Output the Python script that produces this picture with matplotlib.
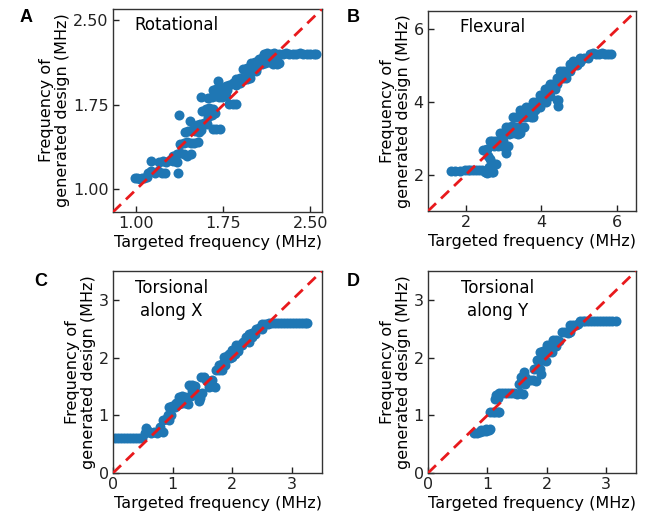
import matplotlib
matplotlib.use("Agg")
import matplotlib.pyplot as plt

# ---------------- Data ----------------
# Panel A: Rotational
rot_target = [0.99, 1.01, 1.03, 1.05, 1.07, 1.09,
              1.10, 1.13, 1.16, 1.19, 1.22, 1.25,
              1.13, 1.20, 1.23, 1.26, 1.29, 1.32, 1.35,
              1.36,
              1.32, 1.35, 1.38, 1.41, 1.44, 1.47,
              1.38, 1.41, 1.44, 1.47, 1.50, 1.53,
              1.42, 1.45, 1.48, 1.51, 1.54, 1.56,
              1.37, 1.46,
              1.52, 1.55, 1.58, 1.61,
              1.66, 1.69, 1.72,
              1.57, 1.60, 1.63, 1.66,
              1.62, 1.65, 1.68,
              1.555,
              1.62, 1.65, 1.68, 1.71, 1.74, 1.77,
              1.70,
              1.66, 1.69, 1.72, 1.75, 1.78,
              1.80, 1.83, 1.86,
              1.77, 1.80, 1.83, 1.86, 1.89,
              1.86, 1.89, 1.92, 1.95, 1.98,
              1.92, 1.95, 1.98, 2.01, 2.03,
              1.95, 1.99, 2.03,
              1.99, 2.02, 2.05, 2.08, 2.11, 2.14,
              2.06, 2.09, 2.12, 2.15, 2.18, 2.21,
              2.10, 2.13, 2.16, 2.19,
              2.18, 2.21, 2.23,
              2.23, 2.26, 2.29, 2.32, 2.35, 2.38, 2.41, 2.44, 2.47, 2.50, 2.53, 2.55]
rot_generated = [1.10, 1.10, 1.09, 1.10, 1.10, 1.11,
                 1.15, 1.16, 1.15, 1.16, 1.15, 1.15,
                 1.25, 1.24, 1.25, 1.24, 1.26, 1.25, 1.24,
                 1.15,
                 1.30, 1.31, 1.32, 1.31, 1.30, 1.31,
                 1.40, 1.41, 1.42, 1.41, 1.41, 1.42,
                 1.51, 1.52, 1.53, 1.52, 1.51, 1.53,
                 1.66, 1.61,
                 1.57, 1.58, 1.59, 1.58,
                 1.54, 1.54, 1.54,
                 1.70, 1.71, 1.72, 1.71,
                 1.64, 1.66, 1.68,
                 1.82,
                 1.81, 1.82, 1.83, 1.82, 1.82, 1.83,
                 1.96,
                 1.88, 1.89, 1.90, 1.89, 1.88,
                 1.76, 1.76, 1.76,
                 1.92, 1.93, 1.94, 1.93, 1.94,
                 1.98, 1.99, 1.97, 1.98, 1.99,
                 2.07, 2.08, 2.09, 2.08, 2.07,
                 2.04, 2.05, 2.05,
                 2.12, 2.13, 2.12, 2.11, 2.12, 2.13,
                 2.16, 2.17, 2.18, 2.17, 2.16, 2.17,
                 2.20, 2.21, 2.20, 2.21,
                 2.11, 2.11, 2.12,
                 2.20, 2.20, 2.21, 2.20, 2.20, 2.20, 2.21, 2.20, 2.20, 2.20, 2.20, 2.20]

# Panel B: Flexural
flex_target = [1.62, 1.72, 1.84,
               1.97, 2.05, 2.12, 2.20, 2.28, 2.36, 2.44,
               2.50, 2.56, 2.62, 2.68, 2.72,
               2.62, 2.68, 2.75, 2.81, 2.64, 2.58,
               2.46, 2.52, 2.55,
               2.63, 2.70, 2.78, 2.86, 2.94, 2.99,
               2.75, 2.85, 2.95, 3.05, 3.12,
               3.07,
               2.90, 2.98, 3.06, 3.14, 3.22, 3.30, 3.38, 3.43,
               3.07, 3.15, 3.23, 3.31, 3.39, 3.47, 3.55,
               3.25, 3.33, 3.41, 3.49, 3.57, 3.65, 3.73, 3.78,
               3.42, 3.50, 3.58, 3.66, 3.74, 3.82,
               3.60, 3.70, 3.80, 3.90, 3.96,
               3.78, 3.86, 3.94, 4.02, 4.13,
               3.96, 4.04, 4.12, 4.22,
               4.09, 4.17, 4.25, 4.35,
               4.22, 4.30, 4.40,
               4.44, 4.40, 4.44,
               4.40, 4.48, 4.56, 4.66,
               4.49, 4.57, 4.65, 4.75,
               4.75, 4.84, 4.93,
               4.84, 4.93, 5.02,
               5.02, 5.12, 5.22,
               5.28, 5.36, 5.44, 5.52, 5.60, 5.68, 5.76, 5.85]
flex_generated = [2.09, 2.09, 2.09,
                  2.13, 2.13, 2.13, 2.12, 2.13, 2.12, 2.12,
                  2.06, 2.05, 2.06, 2.07, 2.08,
                  2.22, 2.28, 2.29, 2.29, 2.42, 2.51,
                  2.69, 2.69, 2.70,
                  2.92, 2.92, 2.93, 2.92, 2.91, 2.92,
                  2.78, 2.79, 2.78, 2.77, 2.79,
                  2.60,
                  3.14, 3.14, 3.15, 3.13, 3.14, 3.15, 3.13, 3.14,
                  3.32, 3.31, 3.33, 3.32, 3.32, 3.31, 3.32,
                  3.59, 3.58, 3.60, 3.59, 3.58, 3.60, 3.59, 3.58,
                  3.77, 3.78, 3.77, 3.76, 3.78, 3.77,
                  3.86, 3.87, 3.86, 3.85, 3.86,
                  4.00, 4.01, 4.00, 3.99, 4.00,
                  4.18, 4.19, 4.18, 4.17,
                  4.36, 4.37, 4.36, 4.35,
                  4.49, 4.50, 4.48,
                  3.88, 4.04, 4.06,
                  4.67, 4.68, 4.66, 4.67,
                  4.85, 4.86, 4.84, 4.85,
                  5.03, 5.04, 5.02,
                  5.12, 5.13, 5.11,
                  5.21, 5.22, 5.21,
                  5.33, 5.34, 5.33, 5.33, 5.34, 5.33, 5.33, 5.33]

# Panel C: Torsional along X
torx_target = [0.03, 0.08, 0.13, 0.18, 0.23, 0.28, 0.33, 0.38, 0.43, 0.48,
               0.53, 0.56, 0.58, 0.63, 0.68, 0.73, 0.78, 0.83, 0.78,
               0.83, 0.88, 0.93,
               0.92, 0.97,
               0.94, 0.99, 1.04, 1.06, 1.11, 1.16, 1.21, 1.26,
               1.11, 1.16, 1.21, 1.26, 1.31,
               1.28, 1.33, 1.38, 1.33,
               1.39, 1.44, 1.49, 1.44, 1.46,
               1.47, 1.52, 1.56, 1.61, 1.66,
               1.61, 1.66, 1.71,
               1.72, 1.77, 1.82,
               1.78, 1.83, 1.88,
               1.86, 1.91, 1.96, 2.00,
               1.94, 1.99, 2.04,
               2.00, 2.05, 2.10,
               2.06, 2.11, 2.16,
               2.17, 2.22, 2.27,
               2.22, 2.27, 2.32,
               2.28, 2.33, 2.38,
               2.39, 2.44, 2.49,
               2.50, 2.55, 2.60,
               2.61, 2.66, 2.71, 2.76, 2.81, 2.86, 2.91, 2.96, 3.01, 3.06, 3.11, 3.16, 3.21, 3.25]
torx_generated = [0.615, 0.615, 0.615, 0.615, 0.615, 0.615, 0.615, 0.615, 0.615, 0.615,
                  0.70, 0.78, 0.72, 0.70, 0.71, 0.70, 0.72, 0.71, 0.80,
                  0.91, 0.93, 0.92,
                  1.00, 1.01,
                  1.15, 1.16, 1.15, 1.21, 1.20, 1.22, 1.21, 1.20,
                  1.32, 1.33, 1.32, 1.31, 1.33,
                  1.52, 1.53, 1.51, 1.44,
                  1.38, 1.37, 1.38, 1.24, 1.30,
                  1.67, 1.66, 1.61, 1.60, 1.62,
                  1.49, 1.50, 1.49,
                  1.78, 1.79, 1.78,
                  1.87, 1.88, 1.87,
                  2.01, 2.02, 2.00, 2.01,
                  2.07, 2.08, 2.07,
                  2.13, 2.14, 2.12,
                  2.21, 2.22, 2.21,
                  2.27, 2.28, 2.27,
                  2.36, 2.37, 2.35,
                  2.41, 2.42, 2.41,
                  2.50, 2.51, 2.50,
                  2.58, 2.59, 2.59,
                  2.60, 2.60, 2.60, 2.60, 2.60, 2.60, 2.60, 2.60, 2.60, 2.60, 2.60, 2.60, 2.60, 2.60]

# Panel D: Torsional along Y
tory_target = [0.77, 0.82, 0.87, 0.92, 0.97, 1.02, 1.05, 0.90, 0.98,
               1.05, 1.09, 1.13, 1.17, 1.19,
               1.13, 1.17,
               1.15, 1.20, 1.25, 1.30, 1.35, 1.40, 1.45, 1.50, 1.55, 1.60,
               1.53, 1.58, 1.63, 1.56, 1.61, 1.64, 1.61,
               1.72, 1.77, 1.82,
               1.78, 1.83, 1.88, 1.90,
               1.84, 1.89, 1.94, 1.99,
               1.89, 1.94, 1.99, 2.04, 2.08,
               2.00, 2.05, 2.10, 2.15,
               2.11, 2.16, 2.21,
               2.25, 2.30, 2.35, 2.39,
               2.39, 2.44, 2.49, 2.53,
               2.55, 2.60, 2.65, 2.70, 2.75, 2.80, 2.85, 2.90, 2.95, 3.00, 3.05, 3.10, 3.17]
tory_generated = [0.70, 0.70, 0.71, 0.72, 0.73, 0.74, 0.77, 0.75, 0.76,
                  1.05, 1.06, 1.06, 1.05, 1.06,
                  1.29, 1.30,
                  1.36, 1.38, 1.39, 1.38, 1.38, 1.39, 1.38, 1.37, 1.38, 1.37,
                  1.55, 1.56, 1.55, 1.67, 1.68, 1.66, 1.75,
                  1.61, 1.62, 1.60,
                  1.81, 1.82, 1.81, 1.72,
                  1.95, 1.96, 1.95, 1.94,
                  2.10, 2.11, 2.10, 2.09, 2.10,
                  2.21, 2.22, 2.21, 2.20,
                  2.30, 2.31, 2.29,
                  2.44, 2.45, 2.43, 2.44,
                  2.56, 2.57, 2.56, 2.58,
                  2.63, 2.63, 2.63, 2.63, 2.63, 2.63, 2.63, 2.63, 2.63, 2.63, 2.63, 2.63, 2.63]

panel_letters = ["A", "B", "C", "D"]
panel_titles = ["Rotational", "Flexural", "Torsional\nalong X", "Torsional\nalong Y"]
limits = [(0.8, 2.6), (1.0, 6.5), (0.0, 3.5), (0.0, 3.5)]
ticks = [[1.00, 1.75, 2.50], [2, 4, 6], [0, 1, 2, 3], [0, 1, 2, 3]]
tick_labels = [["1.00", "1.75", "2.50"], ["2", "4", "6"], ["0", "1", "2", "3"], ["0", "1", "2", "3"]]
xs = [rot_target, flex_target, torx_target, tory_target]
ys = [rot_generated, flex_generated, torx_generated, tory_generated]

# ---------------- Figure ----------------
W, H = 665, 517
fig = plt.figure(figsize=(W / 100, H / 100), dpi=100)
plt.rcParams['font.family'] = ['DejaVu Sans']

# axes boxes in pixels: (left, top, right, bottom)
boxes = [(113, 9, 322, 212), (428, 11, 636, 211), (113, 271, 322, 473), (428, 271, 636, 473)]
letter_pos = [(20, 17), (347, 17), (34, 282), (347, 281)]
title_pos = [(0.10, 0.965, 'left'), (0.15, 0.965, 'left'), (0.28, 0.96, 'center'), (0.335, 0.96, 'center')]

for i in range(4):
    l, t, r, b = boxes[i]
    ax = fig.add_axes([l / W, (H - b) / H, (r - l) / W, (b - t) / H])
    lo, hi = limits[i]
    ax.scatter(xs[i], ys[i], s=52, color='#1f77b4', linewidths=0, zorder=2)
    ax.plot([lo, hi], [lo, hi], '--', color='#e8191c', lw=2, dashes=(4, 2.5), zorder=3)
    ax.set_xlim(lo, hi)
    ax.set_ylim(lo, hi)
    ax.set_xticks(ticks[i])
    ax.set_xticklabels(tick_labels[i])
    ax.set_yticks(ticks[i])
    ax.set_yticklabels(tick_labels[i])
    ax.tick_params(direction='in', length=4, width=1, labelsize=11.5, pad=3, colors='#222222')
    for sp in ax.spines.values():
        sp.set_color('#333333')
        sp.set_linewidth(1)
    ax.set_xlabel("Targeted frequency (MHz)", fontsize=11.5, labelpad=3)
    ax.set_ylabel("Frequency of\ngenerated design (MHz)", fontsize=11.5, labelpad=2, linespacing=1.1)
    tx, ty, ha = title_pos[i]
    ax.text(tx, ty, panel_titles[i], transform=ax.transAxes, ha=ha, va='top',
            fontsize=12, linespacing=1.35)
    fig.text(letter_pos[i][0] / W, 1 - letter_pos[i][1] / H, panel_letters[i],
             fontsize=13, fontweight='bold', ha='left', va='center',
             family=['Liberation Sans', 'DejaVu Sans'])

fig.savefig("out.png", dpi=100)
